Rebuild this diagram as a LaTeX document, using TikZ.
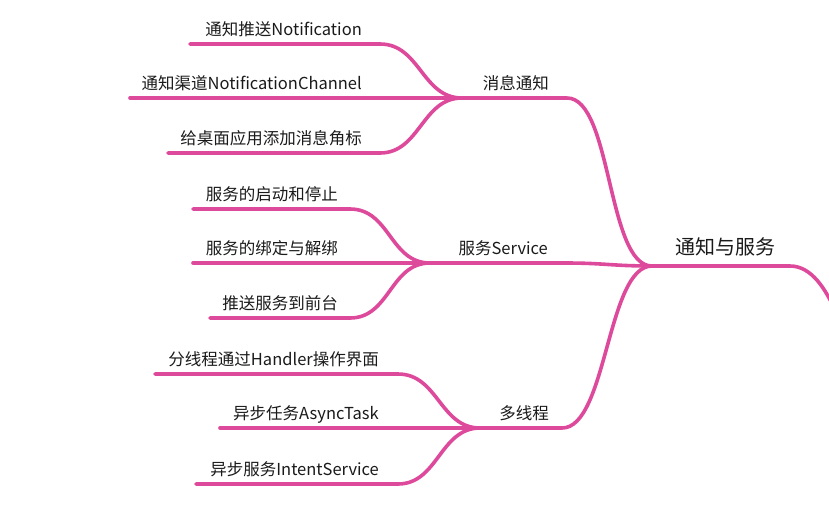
\documentclass[tikz,border=0pt]{standalone}
\usepackage{fontspec}
\setmainfont{Noto Sans CJK SC}
\definecolor{mmpink}{HTML}{DE4A9B}
\definecolor{mmtext}{HTML}{1A1A1A}
\tikzset{
  link/.style={draw=mmpink, line width=3.6pt, line cap=round},
  leaf/.style={anchor=base east, inner sep=0pt, text=mmtext, font=\fontsize{16.5}{19}\selectfont},
  rootlabel/.style={anchor=base, inner sep=0pt, text=mmtext, font=\fontsize{20}{23}\selectfont},
}
\begin{document}
\begin{tikzpicture}[x=1pt,y=-1pt]
\useasboundingbox (0,0) rectangle (829,507);
\clip (0,0) rectangle (829,507);
% junction coordinates
\coordinate (jroot) at (652,266);
\coordinate (j1) at (462,98);
\coordinate (j2) at (430,263);
\coordinate (j3) at (480,428);
% root
\node[rootlabel] (root) at (725,254) {通知与服务};
\coordinate (rb) at (790,266);
\coordinate (rend) at (836,312);
\draw[link] (jroot) -- (rb) .. controls +(22,0) and +(-10,-22) .. (rend);
% branches
\node[leaf] (b1) at (549,89) {消息通知};
\node[leaf] (b2) at (548,254) {服务Service};
\node[leaf] (b3) at (549,419) {多线程};
\coordinate (b1e) at (567,98);
\coordinate (b2e) at (565,263);
\coordinate (b3e) at (562,428);
\draw[link] (j1) -- (b1e) .. controls +(45,0) and +(-45,0) .. (jroot);
\draw[link] (j2) -- (b2e) .. controls +(40,0) and +(-40,0) .. (jroot);
\draw[link] (j3) -- (b3e) .. controls +(45,0) and +(-45,0) .. (jroot);
% group 1
\node[leaf] (l11) at (362,35) {通知推送Notification};
\node[leaf] (l12) at (362,89) {通知渠道NotificationChannel};
\node[leaf] (l13) at (362,144) {给桌面应用添加消息角标};
\coordinate (s11) at (190,44); \coordinate (e11) at (380,44);
\coordinate (s12) at (130,98);
\coordinate (s13) at (168,153); \coordinate (e13) at (380,153);
\draw[link] (s11) -- (e11) .. controls +(40,0) and +(-40,0) .. (j1);
\draw[link] (s12) -- (j1);
\draw[link] (s13) -- (e13) .. controls +(40,0) and +(-40,0) .. (j1);
% group 2
\node[leaf] (l21) at (338,200) {服务的启动和停止};
\node[leaf] (l22) at (338,254) {服务的绑定与解绑};
\node[leaf] (l23) at (338,309) {推送服务到前台};
\coordinate (s21) at (193,209); \coordinate (e21) at (350,209);
\coordinate (s22) at (193,263);
\coordinate (s23) at (210,318); \coordinate (e23) at (350,318);
\draw[link] (s21) -- (e21) .. controls +(40,0) and +(-40,0) .. (j2);
\draw[link] (s22) -- (j2);
\draw[link] (s23) -- (e23) .. controls +(40,0) and +(-40,0) .. (j2);
% group 3
\node[leaf] (l31) at (379,365) {分线程通过Handler操作界面};
\node[leaf] (l32) at (379,419) {异步任务AsyncTask};
\node[leaf] (l33) at (379,475) {异步服务IntentService};
\coordinate (s31) at (155,374); \coordinate (e31) at (398,374);
\coordinate (s32) at (220,428);
\coordinate (s33) at (196,484); \coordinate (e33) at (398,484);
\draw[link] (s31) -- (e31) .. controls +(40,0) and +(-40,0) .. (j3);
\draw[link] (s32) -- (j3);
\draw[link] (s33) -- (e33) .. controls +(40,0) and +(-40,0) .. (j3);
\end{tikzpicture}
\end{document}
